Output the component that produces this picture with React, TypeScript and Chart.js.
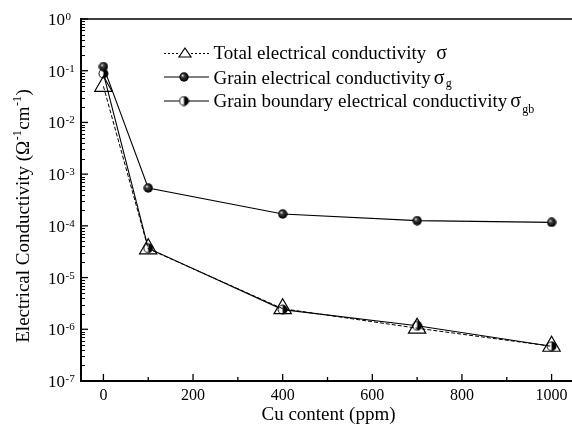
import React, { useEffect, useRef } from "react";
import { Chart, registerables } from "chart.js";

Chart.register(...registerables);

// ---- data ----
const cuContent = [0, 100, 400, 700, 1000];
const totalSigma = [0.05, 3.6e-5, 2.5e-6, 1.05e-6, 4.7e-7];
const grainSigma = [0.12, 5.4e-4, 1.7e-4, 1.26e-4, 1.17e-4];
const boundarySigma = [0.088, 3.7e-5, 2.4e-6, 1.17e-6, 4.7e-7];

const xMajorTicks = [0, 200, 400, 600, 800, 1000];
const xMinorTicks = [100, 300, 500, 700, 900];
const yExponents = [0, -1, -2, -3, -4, -5, -6, -7];
const yMinorMultipliers = [2, 3, 4, 5, 6, 7, 8, 9];

const legendLabels = [
  "Total electrical conductivity",
  "Grain electrical conductivity",
  "Grain boundary electrical conductivity",
];
const legendSubscripts = ["", "g", "gb"];
const xTitle = "Cu content (ppm)";
const yTitleMain = "Electrical Conductivity (Ω";
const yTitleUnit = "cm";

const FONT = '"Liberation Serif", "Times New Roman", serif';

function makeBall(d: number) {
  const c = document.createElement("canvas");
  c.width = d;
  c.height = d;
  const g = c.getContext("2d")!;
  const r = d / 2;
  const grad = g.createRadialGradient(r - 1.6, r - 1.7, 0.2, r, r, r);
  grad.addColorStop(0, "#e0e0e0");
  grad.addColorStop(0.3, "#444");
  grad.addColorStop(0.7, "#111");
  grad.addColorStop(1, "#000");
  g.fillStyle = grad;
  g.beginPath();
  g.arc(r, r, r - 0.3, 0, Math.PI * 2);
  g.fill();
  return c;
}

function makeHalfBall(d: number) {
  const c = document.createElement("canvas");
  c.width = d;
  c.height = d;
  const g = c.getContext("2d")!;
  const r = d / 2;
  g.fillStyle = "#fff";
  g.beginPath();
  g.arc(r, r, r - 1, 0, Math.PI * 2);
  g.fill();
  g.fillStyle = "#000";
  g.beginPath();
  g.arc(r, r, r - 1, -Math.PI / 2, Math.PI / 2);
  g.closePath();
  g.fill();
  g.strokeStyle = "#000";
  g.lineWidth = 1;
  g.beginPath();
  g.arc(r, r, r - 1, 0, Math.PI * 2);
  g.stroke();
  return c;
}

export default function App() {
  const ref = useRef<HTMLCanvasElement | null>(null);

  useEffect(() => {
    const canvas = ref.current!;
    const ball = makeBall(10);
    const halfBall = makeHalfBall(11);

    const decor = {
      id: "decor",
      afterDraw(chart: any) {
        const { ctx, chartArea, scales } = chart;
        const { left, top, right, bottom } = chartArea;
        const xs = scales.x;
        const ys = scales.y;
        ctx.save();
        ctx.strokeStyle = "#000";
        ctx.fillStyle = "#000";

        // frame
        ctx.lineWidth = 1.5;
        ctx.beginPath();
        ctx.moveTo(left, top);
        ctx.lineTo(right, top);
        ctx.moveTo(right, top);
        ctx.lineTo(right, bottom);
        ctx.stroke();
        ctx.lineWidth = 2;
        ctx.beginPath();
        ctx.moveTo(left, top - 1);
        ctx.lineTo(left, bottom + 1);
        ctx.moveTo(left - 1, bottom);
        ctx.lineTo(right, bottom);
        ctx.stroke();

        // y ticks
        ctx.lineWidth = 1.3;
        for (const e of yExponents) {
          const py = ys.getPixelForValue(Math.pow(10, e));
          ctx.beginPath();
          ctx.moveTo(left, py);
          ctx.lineTo(left + 7, py);
          ctx.stroke();
        }
        ctx.lineWidth = 1;
        for (const e of yExponents) {
          if (e >= 0) continue;
          for (const m of yMinorMultipliers) {
            const py = Math.round(ys.getPixelForValue(m * Math.pow(10, e))) + 0.5;
            ctx.beginPath();
            ctx.moveTo(left, py);
            ctx.lineTo(left + 4, py);
            ctx.stroke();
          }
        }
        // x ticks
        ctx.lineWidth = 1.3;
        for (const v of xMajorTicks) {
          const px = xs.getPixelForValue(v);
          ctx.beginPath();
          ctx.moveTo(px, bottom);
          ctx.lineTo(px, bottom - 7);
          ctx.stroke();
        }
        for (const v of xMinorTicks) {
          const px = xs.getPixelForValue(v);
          ctx.beginPath();
          ctx.moveTo(px, bottom);
          ctx.lineTo(px, bottom - 4);
          ctx.stroke();
        }

        // y tick labels
        for (const e of yExponents) {
          const py = ys.getPixelForValue(Math.pow(10, e));
          ctx.font = `17px ${FONT}`;
          ctx.textAlign = "right";
          ctx.textBaseline = "alphabetic";
          ctx.fillText("10", 65, py + 6);
          ctx.font = `11px ${FONT}`;
          ctx.textAlign = "left";
          ctx.fillText(e === 0 ? "0" : "-" + String(-e), 65.5, py + 1);
        }
        // x tick labels
        ctx.font = `16px ${FONT}`;
        ctx.textAlign = "center";
        for (const v of xMajorTicks) {
          ctx.fillText(String(v), xs.getPixelForValue(v), 399.5);
        }
        // x title
        ctx.font = `19px ${FONT}`;
        ctx.fillText(xTitle, (left + right) / 2 + 1, 420);

        // y title
        ctx.save();
        ctx.translate(28.5, 216);
        ctx.rotate(-Math.PI / 2);
        ctx.textAlign = "left";
        const big = `19px ${FONT}`;
        const small = `12px ${FONT}`;
        ctx.font = big;
        const w1 = ctx.measureText(yTitleMain).width;
        const w3 = ctx.measureText(yTitleUnit).width;
        const w5 = ctx.measureText(")").width;
        ctx.font = small;
        const ws = ctx.measureText("-1").width;
        const total = w1 + ws + w3 + ws + w5 + 2;
        let cx = -total / 2;
        ctx.font = big;
        ctx.fillText(yTitleMain, cx, 0);
        cx += w1 + 0.5;
        ctx.font = small;
        ctx.fillText("-1", cx, -8);
        cx += ws + 0.5;
        ctx.font = big;
        ctx.fillText(yTitleUnit, cx, 0);
        cx += w3 + 0.5;
        ctx.font = small;
        ctx.fillText("-1", cx, -8);
        cx += ws + 0.5;
        ctx.font = big;
        ctx.fillText(")", cx, 0);
        ctx.restore();

        // legend
        const rowsY = [53, 77, 101];
        const baseY = [59, 83.5, 107];
        const lx0 = 164;
        const lx1 = 209;
        const mx = 185;
        // row 1: dashed + triangle
        ctx.lineWidth = 1;
        ctx.setLineDash([2, 2]);
        ctx.beginPath();
        ctx.moveTo(lx0, rowsY[0] + 0.5);
        ctx.lineTo(mx - 6, rowsY[0] + 0.5);
        ctx.moveTo(mx + 6, rowsY[0] + 0.5);
        ctx.lineTo(lx1, rowsY[0] + 0.5);
        ctx.stroke();
        ctx.setLineDash([]);
        ctx.lineWidth = 1.2;
        ctx.beginPath();
        ctx.moveTo(mx, rowsY[0] - 5);
        ctx.lineTo(mx + 6, rowsY[0] + 4);
        ctx.lineTo(mx - 6, rowsY[0] + 4);
        ctx.closePath();
        ctx.stroke();
        // rows 2, 3
        ctx.lineWidth = 1.2;
        for (let i = 1; i < 3; i++) {
          ctx.beginPath();
          ctx.moveTo(lx0, rowsY[i]);
          ctx.lineTo(lx1, rowsY[i]);
          ctx.stroke();
        }
        ctx.drawImage(ball, mx - 1 - 5, rowsY[1] - 5);
        ctx.drawImage(halfBall, mx - 1 - 5.5, rowsY[2] - 5.5);

        const tx = 213.5;
        for (let i = 0; i < 3; i++) {
          ctx.font = `19px ${FONT}`;
          ctx.textAlign = "left";
          ctx.fillText(legendLabels[i], tx, baseY[i]);
          const w = ctx.measureText(legendLabels[i]).width;
          const sx = tx + w + (i === 0 ? 10 : 3);
          ctx.font = `20px ${FONT}`;
          ctx.fillText("σ", sx, baseY[i]);
          const sw = ctx.measureText("σ").width;
          if (legendSubscripts[i]) {
            ctx.font = `12px ${FONT}`;
            ctx.fillText(legendSubscripts[i], sx + sw + 1, baseY[i] + (i === 1 ? 3 : 6));
          }
        }
        ctx.restore();
      },
    };

    const chart = new Chart(canvas, {
      type: "line",
      data: {
        datasets: [
          {
            label: "Total electrical conductivity σ",
            data: cuContent.map((x, i) => ({ x, y: totalSigma[i] })),
            borderColor: "#000",
            borderWidth: 1,
            borderDash: [4, 2],
            pointStyle: "triangle",
            pointRadius: 10,
            pointBorderWidth: 1.2,
            pointBorderColor: "#000",
            pointBackgroundColor: "rgba(0,0,0,0)",
            fill: false,
            tension: 0,
          },
          {
            label: "Grain electrical conductivity σg",
            data: cuContent.map((x, i) => ({ x, y: grainSigma[i] })),
            borderColor: "#000",
            borderWidth: 1.1,
            pointStyle: ball as any,
            pointRadius: 5,
            fill: false,
            tension: 0,
          },
          {
            label: "Grain boundary electrical conductivity σgb",
            data: cuContent.map((x, i) => ({ x, y: boundarySigma[i] })),
            borderColor: "#000",
            borderWidth: 1.1,
            pointStyle: halfBall as any,
            pointRadius: 5,
            fill: false,
            tension: 0,
          },
        ],
      },
      options: {
        responsive: false,
        animation: false,
        devicePixelRatio: 1,
        layout: { padding: { left: 81, top: 19, right: 26, bottom: 51 } },
        plugins: { legend: { display: false }, tooltip: { enabled: false } },
        scales: {
          x: { type: "linear", min: -50, max: 1050, display: false },
          y: { type: "logarithmic", min: 1e-7, max: 1, display: false },
        },
      },
      plugins: [decor],
    });
    return () => chart.destroy();
  }, []);

  return (
    <div
      style={{
        position: "fixed",
        left: 0,
        top: 0,
        width: 572,
        height: 432,
        overflow: "hidden",
        background: "#fff",
      }}
    >
      <canvas ref={ref} width={600} height={432} style={{ display: "block" }} />
    </div>
  );
}
